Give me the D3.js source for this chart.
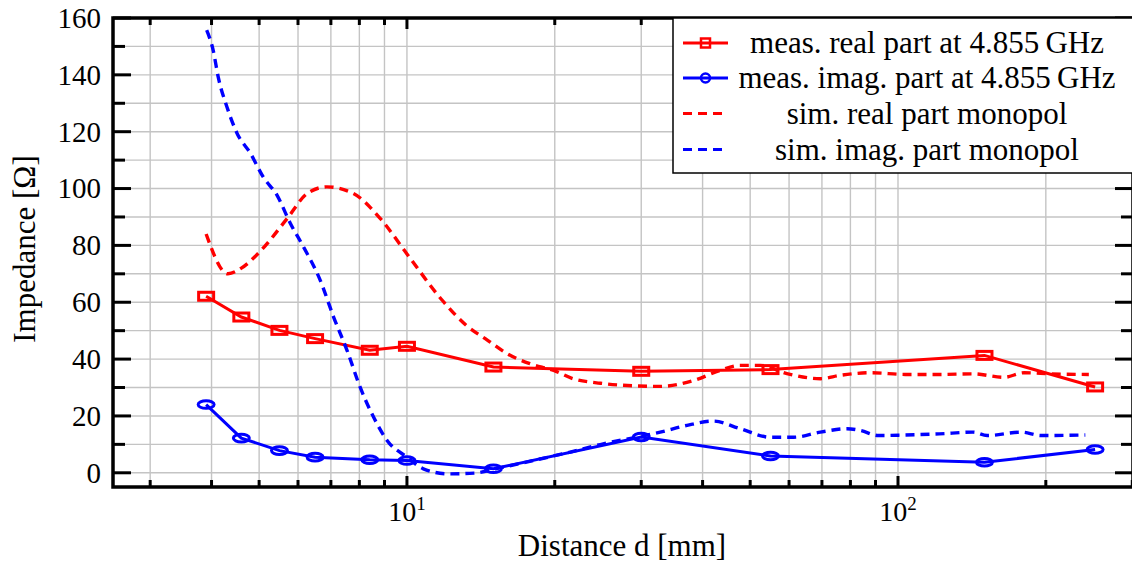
<!DOCTYPE html>
<html>
<head>
<meta charset="utf-8">
<script src="https://cdn.jsdelivr.net/npm/d3@7"></script>
<style>
  html, body { margin: 0; padding: 0; background: #fff; }
  svg { display: block; overflow: hidden; }
</style>
</head>
<body>
<svg id="chart" width="1132" height="566"></svg>
<script>
// measured points (distance in mm, impedance in Ohm)
var measD = [3.9, 4.6, 5.5, 6.5, 8.4, 10, 15, 30, 55, 150, 252];
var measRe = [62.1, 54.8, 50.1, 47.2, 43.1, 44.5, 37.2, 35.7, 36.3, 41.3, 30.2];
var measIm = [24.0, 12.2, 7.8, 5.5, 4.6, 4.3, 1.4, 12.6, 5.9, 3.7, 8.2];

// simulated monopol curves
var simReD = [3.9, 4.32, 4.6, 5.03, 5.7, 6.26, 6.87, 7.77, 8.82, 10, 11.8, 13.2, 14.6, 16, 17.8, 19.9, 21.8, 24.8, 28.1, 32.8, 38.4, 43.4, 47.7, 52.4, 59.4, 69.5, 76.3, 88.4, 103.5, 121.3, 142.3, 164.4, 180.7, 205.2, 244.7];
var simRe = [84, 70, 72, 78, 89.4, 98.2, 100.6, 98.3, 89.5, 77, 60.7, 51.9, 46.6, 41.9, 38.4, 36, 33.1, 31.5, 30.7, 30.4, 32.5, 36, 37.8, 37.8, 34.9, 33.1, 34.3, 35.2, 34.6, 34.6, 34.8, 33.6, 35.2, 34.8, 34.6];
var simImD = [3.91, 4.03, 4.13, 4.3, 4.51, 4.8, 5.1, 5.44, 5.79, 6.16, 6.66, 7.09, 7.55, 8.03, 8.55, 9.11, 10, 10.8, 12.2, 13.7, 15.7, 18.4, 21.5, 25.1, 28.9, 32.8, 37.2, 42.1, 47.7, 55, 61.3, 69.5, 78.7, 83.8, 91.2, 103.5, 121.3, 142.3, 151.9, 178.1, 195.8, 240.7];
var simIm = [155.7, 148.7, 139, 128.7, 119.4, 112.4, 104, 97.6, 87.7, 79.4, 67.7, 54.8, 43.1, 30.1, 19.6, 11.4, 5.5, 1.4, -0.4, -0.1, 2.0, 4.6, 7.3, 10.2, 12.3, 14.3, 16.7, 18.2, 15.5, 12.5, 12.5, 14.3, 15.5, 14.9, 13.1, 13.3, 13.7, 14.3, 13.1, 14.3, 13.1, 13.3];

var xMajor = [10, 100];
var xLabels = ["1", "2"];
var yMajor = [0, 20, 40, 60, 80, 100, 120, 140, 160];
var yMinor = [10, 30, 50, 70, 90, 110, 130, 150];

var legendTexts = ["meas. real part at 4.855\u2009GHz", "meas. imag. part at 4.855\u2009GHz", "sim. real part monopol", "sim. imag. part monopol"];

var red = "#ff0000", blue = "#0000ff";
var serif = "'Liberation Serif', 'Times New Roman', serif";

// plot box (px)
var pL = 113, pR = 1133, pT = 18, pB = 487;

var x = d3.scaleLog().domain([2.52, 301]).range([pL, pR]);
var y = d3.scaleLinear().domain([-5, 160]).range([pB, pT]);

var svg = d3.select("#chart");

svg.append("defs").append("clipPath").attr("id", "plotclip")
  .append("rect").attr("x", pL).attr("y", pT).attr("width", pR - pL).attr("height", pB - pT);

// grid
var xGrid = x.ticks();
var xMinor = xGrid.filter(function(d) { return xMajor.indexOf(d) < 0; });
var grid = svg.append("g").attr("stroke", "#c4c4c4").attr("stroke-width", 1.4);
grid.selectAll("line.v").data(xGrid).enter().append("line")
  .attr("x1", function(d) { return x(d); }).attr("x2", function(d) { return x(d); })
  .attr("y1", pT).attr("y2", pB);
grid.selectAll("line.h").data(yMajor.concat(yMinor)).enter().append("line")
  .attr("x1", pL).attr("x2", pR)
  .attr("y1", function(d) { return y(d); }).attr("y2", function(d) { return y(d); });

var plot = svg.append("g").attr("clip-path", "url(#plotclip)");

var line = d3.line().x(function(d) { return x(d[0]); }).y(function(d) { return y(d[1]); });
var smooth = d3.line().curve(d3.curveMonotoneX).x(function(d) { return x(d[0]); }).y(function(d) { return y(d[1]); });

function pairs(a, b) { return a.map(function(v, i) { return [v, b[i]]; }); }

// measured lines + markers
plot.append("path").datum(pairs(measD, measRe)).attr("d", line)
  .attr("fill", "none").attr("stroke", red).attr("stroke-width", 3);
plot.selectAll("rect.mre").data(pairs(measD, measRe)).enter().append("rect")
  .attr("x", function(d) { return x(d[0]) - 7.5; }).attr("y", function(d) { return y(d[1]) - 4; })
  .attr("width", 15).attr("height", 8)
  .attr("fill", "none").attr("stroke", red).attr("stroke-width", 3);

plot.append("path").datum(pairs(measD, measIm)).attr("d", line)
  .attr("fill", "none").attr("stroke", blue).attr("stroke-width", 3);
plot.selectAll("ellipse.mim").data(pairs(measD, measIm)).enter().append("ellipse")
  .attr("cx", function(d) { return x(d[0]); }).attr("cy", function(d) { return y(d[1]); })
  .attr("rx", 8).attr("ry", 3.8)
  .attr("fill", "none").attr("stroke", blue).attr("stroke-width", 3);

// simulated dashed lines
plot.append("path").datum(pairs(simReD, simRe)).attr("d", smooth)
  .attr("fill", "none").attr("stroke", red).attr("stroke-width", 3.4).attr("stroke-dasharray", "9,6");
plot.append("path").datum(pairs(simImD, simIm)).attr("d", smooth)
  .attr("fill", "none").attr("stroke", blue).attr("stroke-width", 3.4).attr("stroke-dasharray", "9,6");

// ticks (inward) on all four sides
var ticks = svg.append("g").attr("stroke", "#000").attr("stroke-width", 3);
function xTicks(vals, len) {
  ticks.selectAll(null).data(vals).enter().append("line")
    .attr("x1", function(d) { return x(d); }).attr("x2", function(d) { return x(d); })
    .attr("y1", pB).attr("y2", pB - len);
  ticks.selectAll(null).data(vals).enter().append("line")
    .attr("x1", function(d) { return x(d); }).attr("x2", function(d) { return x(d); })
    .attr("y1", pT).attr("y2", pT + len);
}
function yTicks(vals, len) {
  ticks.selectAll(null).data(vals).enter().append("line")
    .attr("x1", pL).attr("x2", pL + len)
    .attr("y1", function(d) { return y(d); }).attr("y2", function(d) { return y(d); });
  ticks.selectAll(null).data(vals).enter().append("line")
    .attr("x1", pR).attr("x2", pR - len)
    .attr("y1", function(d) { return y(d); }).attr("y2", function(d) { return y(d); });
}
xTicks(xMajor, 11);
xTicks(xMinor, 7);
yTicks(yMajor, 18);
yTicks(yMinor, 12);

// frame
svg.append("rect").attr("x", pL).attr("y", pT).attr("width", pR - pL).attr("height", pB - pT)
  .attr("fill", "none").attr("stroke", "#000").attr("stroke-width", 3.5);

// tick labels
svg.append("g").selectAll("text").data(yMajor).enter().append("text")
  .attr("x", 101).attr("y", function(d) { return y(d); }).attr("dy", "0.34em")
  .attr("text-anchor", "end").attr("font-family", serif).attr("font-size", 29)
  .text(function(d) { return d; });

var xl = svg.append("g").selectAll("text").data(xMajor).enter().append("text")
  .attr("x", function(d) { return x(d); }).attr("y", 521)
  .attr("text-anchor", "middle").attr("font-family", serif).attr("font-size", 28);
xl.append("tspan").text("10");
xl.append("tspan").attr("dy", -11).attr("font-size", 19).text(function(d, i) { return xLabels[i]; });

// axis titles
svg.append("text").attr("x", 622).attr("y", 556).attr("text-anchor", "middle")
  .attr("font-family", serif).attr("font-size", 31).text("Distance d [mm]");
svg.append("text").attr("transform", "translate(35,249) rotate(-90)").attr("text-anchor", "middle")
  .attr("font-family", serif).attr("font-size", 31).text("Impedance [\u03A9]");

// legend
var lg = svg.append("g");
lg.append("rect").attr("x", 673).attr("y", pT).attr("width", 480).attr("height", 155)
  .attr("fill", "#fff").attr("stroke", "#000").attr("stroke-width", 1.5);
var rowY = [43, 78, 113.5, 149.5];
var legColors = [red, blue, red, blue];
legendTexts.forEach(function(t, i) {
  var l = lg.append("line").attr("x1", 683).attr("x2", 728).attr("y1", rowY[i]).attr("y2", rowY[i])
    .attr("stroke", legColors[i]).attr("stroke-width", 3);
  if (i > 1) l.attr("stroke-dasharray", "9,6");
  if (i == 0) {
    lg.append("rect").attr("x", 701).attr("y", rowY[i] - 4.5).attr("width", 9).attr("height", 9)
      .attr("fill", "none").attr("stroke", red).attr("stroke-width", 2.5);
  }
  if (i == 1) {
    lg.append("circle").attr("cx", 705.5).attr("cy", rowY[i]).attr("r", 4.5)
      .attr("fill", "none").attr("stroke", blue).attr("stroke-width", 2.5);
  }
  lg.append("text").attr("x", 927).attr("y", rowY[i]).attr("dy", "0.33em")
    .attr("text-anchor", "middle").attr("font-family", serif).attr("font-size", 31).text(t);
});
</script>
</body>
</html>
